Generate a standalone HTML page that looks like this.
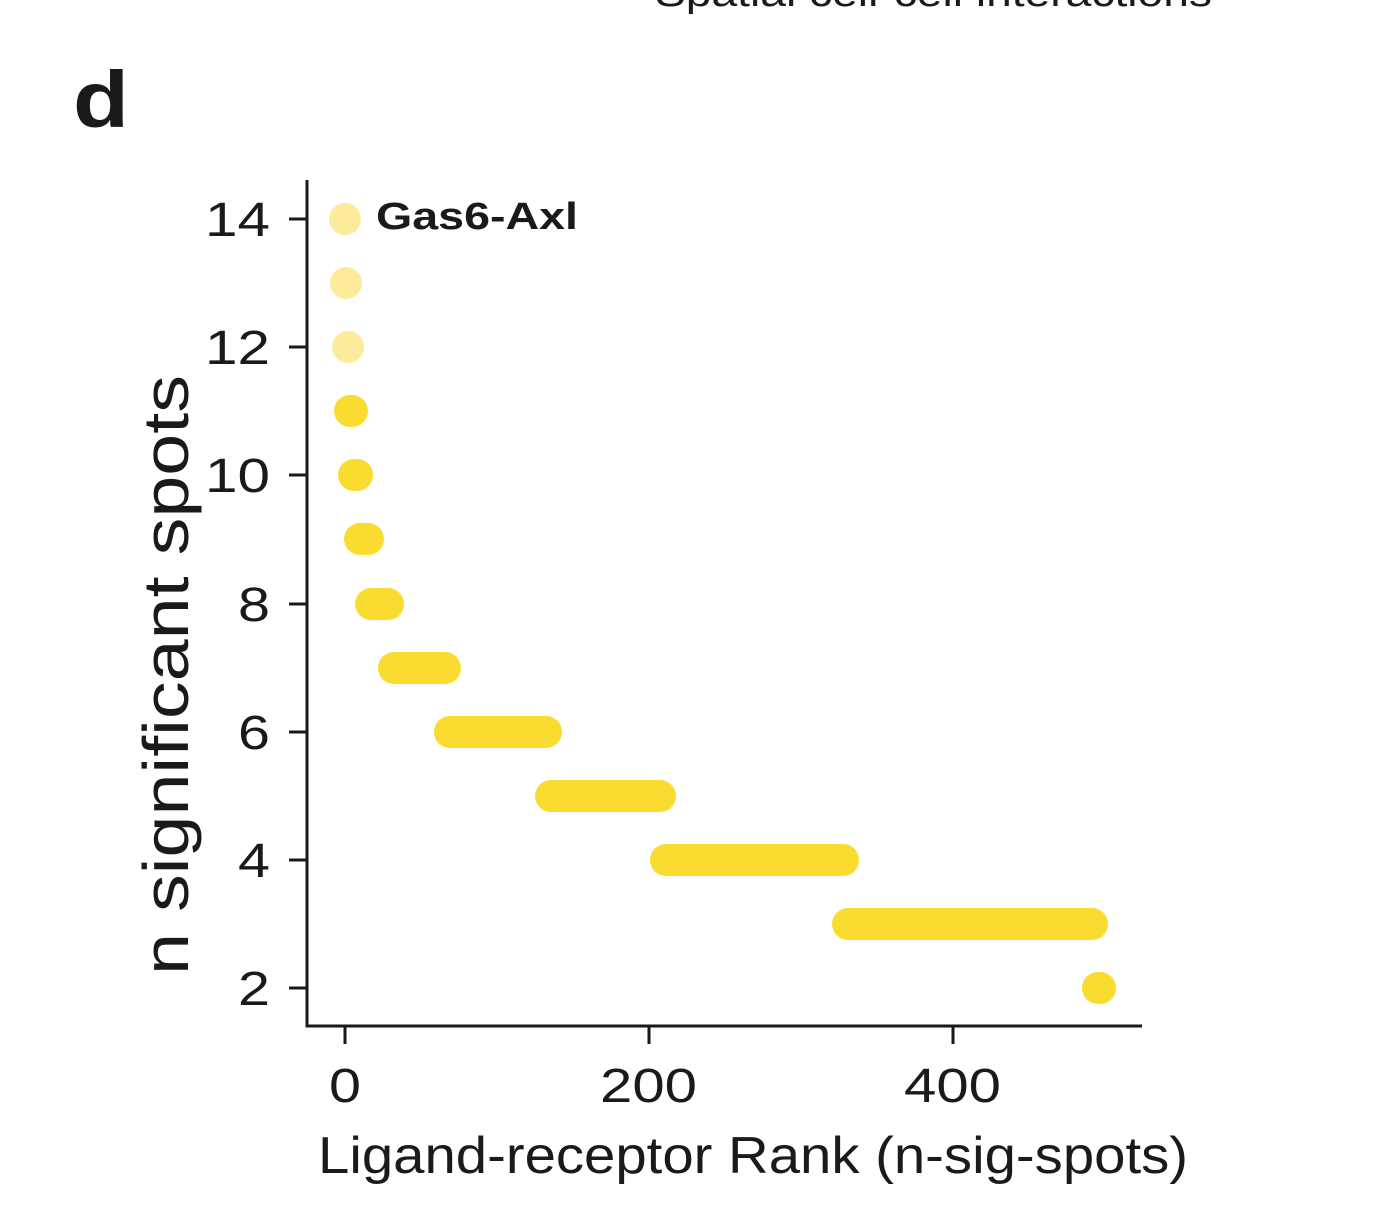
<!DOCTYPE html>
<html><head><meta charset="utf-8"><style>
html,body{margin:0;padding:0;background:#fff;}
svg{display:block;}
text{font-family:"Liberation Sans",sans-serif;fill:#1a1a1a;}
</style></head><body>
<svg width="1384" height="1225" viewBox="0 0 1384 1225" xmlns="http://www.w3.org/2000/svg">
<text x="655" y="6" font-size="38" textLength="557" lengthAdjust="spacingAndGlyphs">Spatial cell-cell interactions</text>
<text x="73" y="127" font-size="80" font-weight="bold" fill="#222" textLength="56" lengthAdjust="spacingAndGlyphs">d</text>
<g stroke-linecap="round" stroke-width="32" fill="none">
<line x1="345" y1="219" x2="345.01" y2="219" stroke="#fdeb9c"/>
<line x1="346" y1="283" x2="346.01" y2="283" stroke="#fdeb9c"/>
<line x1="348" y1="347" x2="348.01" y2="347" stroke="#fdeb9c"/>
<g stroke="#fadc30">
<line x1="350" y1="411" x2="352" y2="411"/>
<line x1="354" y1="475" x2="357" y2="475"/>
<line x1="360" y1="539" x2="368" y2="539"/>
<line x1="371" y1="604" x2="388" y2="604"/>
<line x1="394" y1="668" x2="445" y2="668"/>
<line x1="450" y1="732" x2="546" y2="732"/>
<line x1="551" y1="796" x2="660" y2="796"/>
<line x1="666" y1="860" x2="843" y2="860"/>
<line x1="848" y1="924" x2="1092" y2="924"/>
<line x1="1098" y1="988" x2="1100" y2="988"/>
</g>
</g>
<text x="376" y="229" font-size="38" font-weight="bold" fill="#111" textLength="202" lengthAdjust="spacingAndGlyphs">Gas6-Axl</text>
<g stroke="#1a1a1a" stroke-width="3" fill="none">
<polyline points="307,180 307,1026 1142,1026"/>
<line x1="289" y1="219" x2="307" y2="219"/>
<line x1="289" y1="347" x2="307" y2="347"/>
<line x1="289" y1="475" x2="307" y2="475"/>
<line x1="289" y1="604" x2="307" y2="604"/>
<line x1="289" y1="732" x2="307" y2="732"/>
<line x1="289" y1="860" x2="307" y2="860"/>
<line x1="289" y1="988" x2="307" y2="988"/>
<line x1="345" y1="1026" x2="345" y2="1044"/>
<line x1="649" y1="1026" x2="649" y2="1044"/>
<line x1="953" y1="1026" x2="953" y2="1044"/>
</g>
<g font-size="48">
<text x="205" y="236" textLength="65" lengthAdjust="spacingAndGlyphs">14</text>
<text x="205" y="364" textLength="65" lengthAdjust="spacingAndGlyphs">12</text>
<text x="205" y="492" textLength="65" lengthAdjust="spacingAndGlyphs">10</text>
<text x="238" y="621" textLength="32" lengthAdjust="spacingAndGlyphs">8</text>
<text x="238" y="749" textLength="32" lengthAdjust="spacingAndGlyphs">6</text>
<text x="238" y="877" textLength="32" lengthAdjust="spacingAndGlyphs">4</text>
<text x="238" y="1005" textLength="32" lengthAdjust="spacingAndGlyphs">2</text>
</g>
<g font-size="48">
<text x="329" y="1102" textLength="32" lengthAdjust="spacingAndGlyphs">0</text>
<text x="600" y="1102" textLength="97" lengthAdjust="spacingAndGlyphs">200</text>
<text x="904" y="1102" textLength="97" lengthAdjust="spacingAndGlyphs">400</text>
</g>
<text x="318" y="1173" font-size="52" textLength="870" lengthAdjust="spacingAndGlyphs">Ligand-receptor Rank (n-sig-spots)</text>
<text transform="translate(188,975) rotate(-90)" font-size="64" textLength="600" lengthAdjust="spacingAndGlyphs">n significant spots</text>
</svg>
</body></html>
